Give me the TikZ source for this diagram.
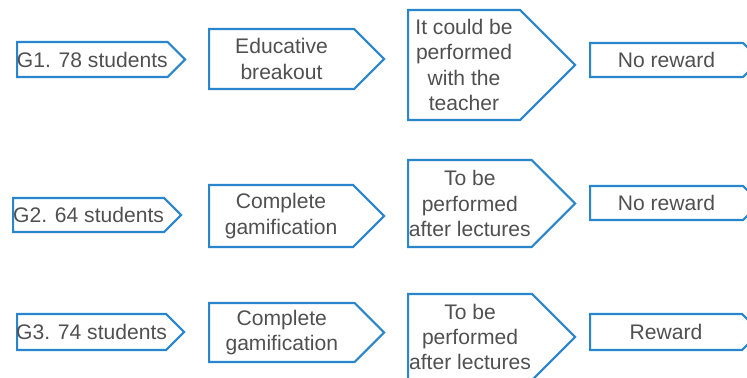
\documentclass[tikz,border=0pt]{standalone}
\usepackage{fontspec}
\setmainfont{Liberation Sans}
\usetikzlibrary{shapes.symbols}
\definecolor{tagblue}{RGB}{42,134,204}
\definecolor{labelgray}{RGB}{80,80,80}

\begin{document}
\begin{tikzpicture}[x=0.02cm, y=-0.02cm,
  every node/.style = {align=center, text=labelgray,
    font=\fontsize{12}{14.4}\selectfont},
  tag/.style = {signal, signal to=east, signal pointer angle=90,
    draw=tagblue, line width=1.2pt, inner xsep=-3pt, inner ysep=0pt,
    anchor=west, minimum width=#1},
  tag/.default = 3.36cm]
  \useasboundingbox (0,0) rectangle (747,378);
  \clip (0,0) rectangle (747,378);
  % G1
  \node[tag, minimum height=0.70cm] (g1) at (16,59.5) {G1. 78 students};
  \node[tag=3.5cm, minimum height=1.2cm] (activity1) at (208,59) {Educative\\breakout};
  \node[tag=3.34cm, minimum height=2.2cm] (mode1) at (407,65) {It could be\\performed\\with the\\teacher};
  \node[tag=3.4cm, minimum height=0.68cm] (reward1) at (589,60) {No reward};
  % G2
  \node[tag, minimum height=0.68cm] (g2) at (12,215) {G2. 64 students};
  \node[tag=3.5cm, minimum height=1.24cm] (activity2) at (208,216) {Complete\\gamification};
  \node[tag=3.34cm, minimum height=1.74cm] (mode2) at (407,203.5) {To be\\performed\\after lectures};
  \node[tag=3.4cm, minimum height=0.68cm] (reward2) at (589,203) {No reward};
  % G3
  \node[tag=3.34cm, minimum height=0.72cm] (g3) at (16,332) {G3. 74 students};
  \node[tag=3.5cm, minimum height=1.18cm] (activity3) at (208,332.5) {Complete\\gamification};
  \node[tag=3.34cm, minimum height=1.72cm] (mode3) at (407,337) {To be\\performed\\after lectures};
  \node[tag=3.4cm, minimum height=0.72cm] (reward3) at (589,332) {Reward};
\end{tikzpicture}
\end{document}
